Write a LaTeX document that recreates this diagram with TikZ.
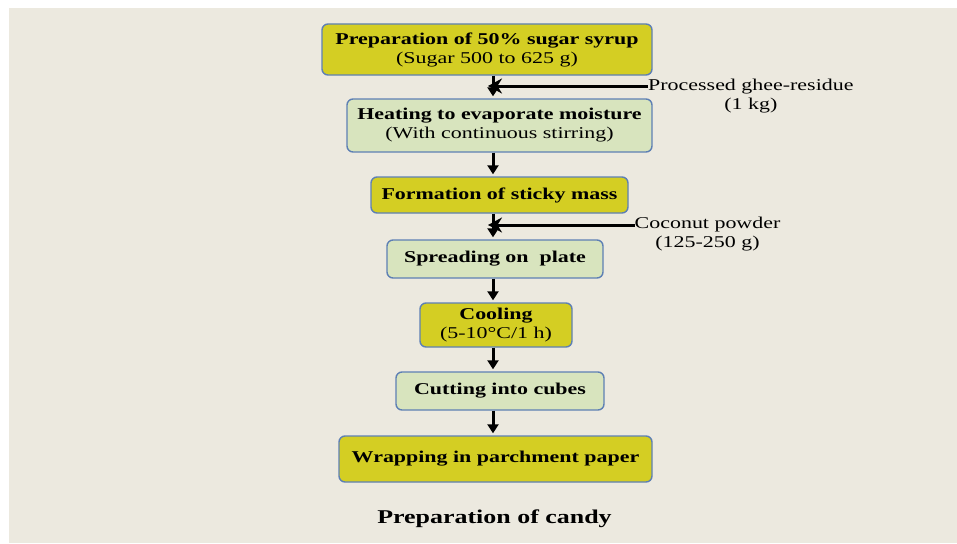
\documentclass[tikz,border=0pt]{standalone}
\usepackage{fontspec}
\setmainfont{Liberation Serif}[FakeStretch=1.33]
\usetikzlibrary{arrows.meta,positioning,calc}
\definecolor{bgbeige}{HTML}{ECE9DF}
\definecolor{boxyellow}{HTML}{D4CE23}
\definecolor{boxgreen}{HTML}{D8E4BE}
\definecolor{boxline}{HTML}{5E80B4}

\begin{document}
\begin{tikzpicture}[x=1pt,y=-1pt,
    stage/.style={draw=boxline,line width=1.4pt,rounded corners=6pt,align=center,
        inner sep=2pt,font=\fontsize{16.5}{19}\selectfont},
    yellowbox/.style={stage,fill=boxyellow},
    greenbox/.style={stage,fill=boxgreen},
    flow/.style={-{Triangle[length=9pt,width=11pt]},line width=3pt,shorten >=2pt},
    feed/.style={-{Stealth[length=14pt,width=15pt]},line width=3pt},
    addlabel/.style={anchor=west,align=center,inner sep=0pt,font=\fontsize{16.5}{19}\selectfont}]

    % Background
    \fill[white] (0,0) rectangle (957,543);
    \fill[bgbeige] (9,8) rectangle (957,543);
    \useasboundingbox (0,0) rectangle (957,543);

    % Process steps
    \node[yellowbox,minimum width=330pt,minimum height=51pt] (syrup) at (487,49.5)
        {\textbf{Preparation of 50\% sugar syrup}\\(Sugar 500 to 625 g)};
    \node[greenbox,minimum width=305pt,minimum height=53pt] (heat) at (499.5,125.5)
        {\textbf{Heating to evaporate moisture}\\(With continuous stirring)};
    \node[yellowbox,minimum width=257pt,minimum height=36pt] (sticky) at (499.5,195)
        {\textbf{Formation of sticky mass}};
    \node[greenbox,minimum width=216pt,minimum height=38pt] (spread) at (495,259)
        {\textbf{Spreading on\ \ plate}};
    \node[yellowbox,minimum width=152pt,minimum height=44pt] (cool) at (496,325)
        {\textbf{Cooling}\\(5-10°C/1 h)};
    \node[greenbox,minimum width=208pt,minimum height=38pt] (cut) at (500,391)
        {\textbf{Cutting into cubes}};
    \node[yellowbox,minimum width=313pt,minimum height=46pt] (wrap) at (495.5,459)
        {\textbf{Wrapping in parchment paper}};

    % Added ingredients
    \node[addlabel] (ghee) at (648,96) {Processed ghee-residue\\(1 kg)};
    \node[addlabel] (coconut) at (634.5,234.5) {Coconut powder\\(125-250 g)};

    % Flow arrows
    \coordinate (stem) at (493,0);
    \draw[flow] (syrup.south -| stem) -- (heat.north -| stem);
    \draw[flow] (heat.south -| stem) -- (sticky.north -| stem);
    \draw[flow] (sticky.south -| stem) -- (spread.north -| stem);
    \draw[flow] (spread.south -| stem) -- (cool.north -| stem);
    \draw[flow] (cool.south -| stem) -- (cut.north -| stem);
    \draw[flow] (cut.south -| stem) -- (wrap.north -| stem);

    % Side inputs
    \coordinate (mixghee) at (488,86);
    \coordinate (mixcoconut) at (488,225);
    \draw[feed] (ghee.west |- mixghee) -- (mixghee);
    \draw[feed] (coconut.west |- mixcoconut) -- (mixcoconut);

    % Caption
    \node[font=\bfseries\fontsize{19.5}{22}\selectfont] (caption) at (494.5,518.5) {Preparation of candy};
\end{tikzpicture}
\end{document}
